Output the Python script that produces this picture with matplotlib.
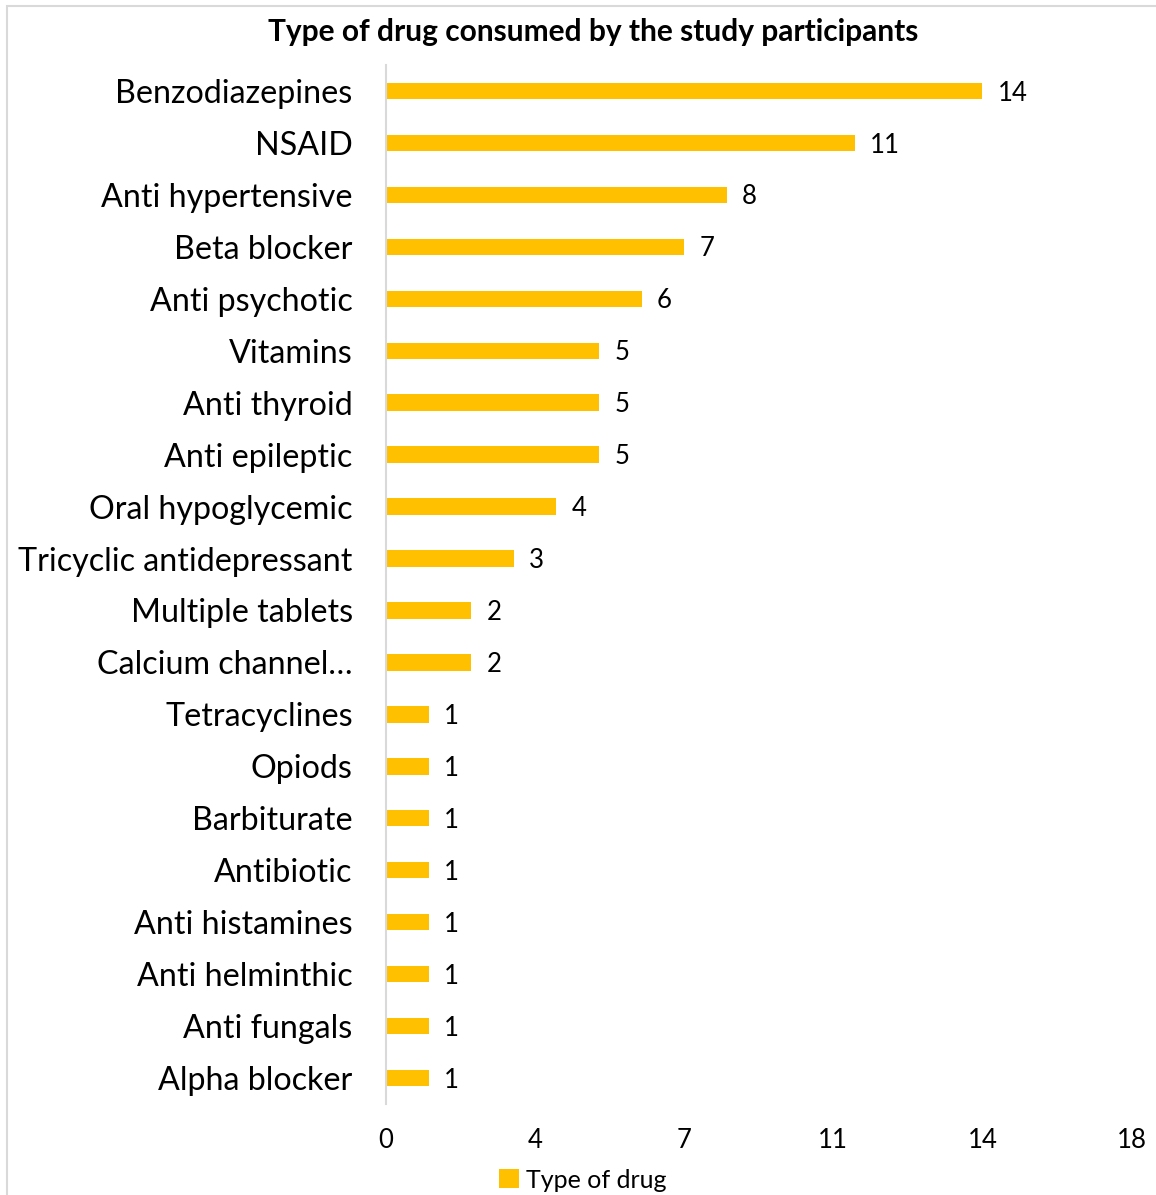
import matplotlib
matplotlib.use("Agg")
import matplotlib.pyplot as plt
from matplotlib.patches import Patch, Rectangle

drugs = ["Benzodiazepines", "NSAID", "Anti hypertensive", "Beta blocker",
         "Anti psychotic", "Vitamins", "Anti thyroid", "Anti epileptic",
         "Oral hypoglycemic", "Tricyclic antidepressant", "Multiple tablets",
         "Calcium channel\u2026", "Tetracyclines", "Opiods", "Barbiturate",
         "Antibiotic", "Anti histamines", "Anti helminthic", "Anti fungals",
         "Alpha blocker"]
counts = [14, 11, 8, 7, 6, 5, 5, 5, 4, 3, 2, 2, 1, 1, 1, 1, 1, 1, 1, 1]

xticks = [0, 3.5, 7, 10.5, 14, 17.5]
xtick_labels = ["0", "4", "7", "11", "14", "18"]

bar_color = "#FFC000"
plt.rcParams['font.family'] = ['Lato', 'DejaVu Sans']

W, H = 1156, 1195
fig = plt.figure(figsize=(W / 100, H / 100), dpi=100)

# chart frame, runs off the right and bottom edges
fig.patches.append(Rectangle((7 / W, -0.1), 1.2, 1 - 6 / H + 0.1,
                             transform=fig.transFigure, fill=False,
                             edgecolor="#D9D9D9", linewidth=1.5))

left, right = 386 / W, 1131.5 / W
top, bottom = 65 / H, 1104 / H
ax = fig.add_axes([left, 1 - bottom, right - left, bottom - top])

ypos = list(range(len(drugs)))
ax.barh(ypos, counts, height=0.315, color=bar_color, label="Type of drug")
for y, v in zip(ypos, counts):
    ax.annotate(str(v), (v, y), xytext=(11, -1.5), textcoords="offset points",
                va="center", ha="left", fontsize=18.5)

ax.set_xlim(0, 17.5)
ax.set_ylim(len(drugs) - 0.5, -0.5)
ax.set_yticks(ypos)
ax.set_yticklabels(drugs, fontsize=23.2)
ax.set_xticks(xticks)
ax.set_xticklabels(xtick_labels, fontsize=18.5)
ax.tick_params(axis="y", length=0, pad=24)
ax.tick_params(axis="x", length=0, pad=17)

for s in ["top", "right", "bottom"]:
    ax.spines[s].set_visible(False)
ax.spines["left"].set_color("#D9D9D9")
ax.spines["left"].set_linewidth(1.5)

fig.text(593 / W, 1 - 32 / H, "Type of drug consumed by the study participants",
         ha="center", va="center", fontsize=21.5, fontweight="bold")

fig.legend(handles=[Patch(facecolor=bar_color, label="Type of drug")],
           loc="center", bbox_to_anchor=(583 / W, 1 - 1180 / H), frameon=False,
           fontsize=18, handlelength=0.8, handleheight=0.8, handletextpad=0.3)

fig.savefig("out.png", dpi=100)
